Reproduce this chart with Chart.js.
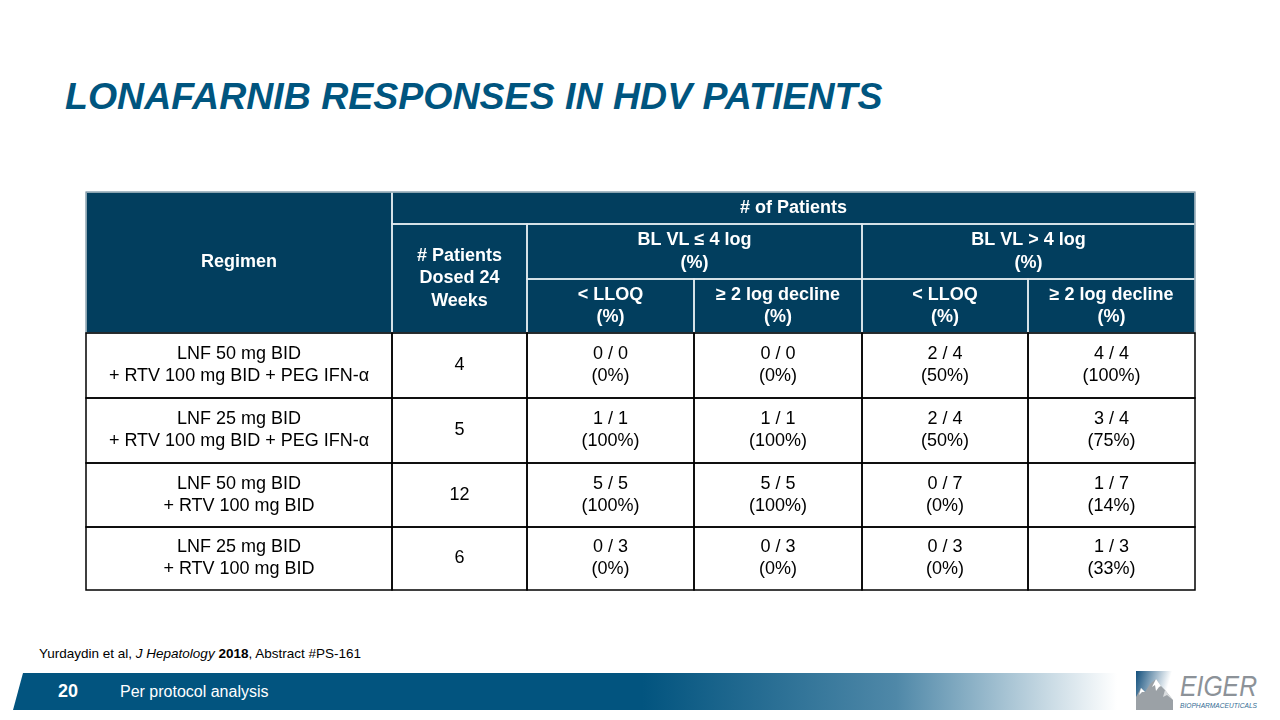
<!doctype html>
<html lang="en">
<head>
    <meta charset="UTF-8">
    <title>Lonafarnib responses in HDV patients</title>
    <style>
        * {
            margin: 0;
            padding: 0;
            box-sizing: border-box;
        }

        body {
            width: 1280px;
            height: 720px;
            position: relative;
            overflow: hidden;
            background: #ffffff;
            font-family: 'Liberation Sans', Arial, sans-serif;
        }

        h1 {
            position: absolute;
            left: 65px;
            top: 78px;
            font-size: 37.5px;
            line-height: 37px;
            font-weight: 700;
            font-style: italic;
            color: #00557f;
            white-space: nowrap;
        }

        #tableBox {
            position: absolute;
            left: 80px;
            top: 186px;
            width: 1121px;
            height: 410px;
        }

        .cite {
            position: absolute;
            left: 39px;
            top: 647px;
            font-size: 13.5px;
            line-height: 14px;
            color: #000000;
            white-space: nowrap;
        }

        .bar {
            position: absolute;
            left: 13px;
            top: 673px;
            width: 1104px;
            height: 37px;
            clip-path: polygon(10px 0, 100% 0, 100% 100%, 0 100%);
            background: linear-gradient(to right, #02547f 0%, #02547f 57%, #4f88a8 80%, #ffffff 100%);
        }

        .bar span {
            position: absolute;
            top: 0;
            line-height: 37px;
            color: #ffffff;
            white-space: nowrap;
        }

        .logo {
            position: absolute;
            left: 1134px;
            top: 670px;
        }
    </style>
</head>

<body>

<h1>LONAFARNIB RESPONSES IN HDV PATIENTS</h1>

<div id="tableBox"><canvas id="tableChart"></canvas></div>

<p class="cite">Yurdaydin et al, <i>J Hepatology</i> <b>2018</b>, Abstract #PS-161</p>

<div class="bar">
    <span style="left:45px; font-size:18px; font-weight:700;">20</span>
    <span style="left:107px; font-size:16px;">Per protocol analysis</span>
</div>

<svg class="logo" width="130" height="44" viewBox="0 0 130 44">
    <defs>
        <linearGradient id="sky" x1="0" y1="0" x2="1" y2="0.3">
            <stop offset="0" stop-color="#124f7c"/>
            <stop offset="0.9" stop-color="#ffffff"/>
        </linearGradient>
    </defs>
    <rect x="2" y="1" width="37" height="39" fill="url(#sky)"/>
    <polygon points="2,40 2,27 7,18 11,22 16,14 22,9 27,16 31,20 39,30 39,40" fill="#9ba1a6"/>
    <polygon points="22,9 18,17 21,15 22,21 25,17 27,16" fill="#ffffff"/>
    <polygon points="7,18 5,25 8,22 11,22" fill="#ffffff"/>
    <polygon points="31,20 29,27 33,25 39,30" fill="#d9dcde"/>
    <text x="46" y="26" font-family="Liberation Sans Narrow, Liberation Sans" font-style="italic"
          font-size="29" fill="#8c9298" textLength="77" lengthAdjust="spacingAndGlyphs">EIGER</text>
    <text x="46" y="38" font-family="Liberation Sans Narrow, Liberation Sans" font-style="italic"
          font-size="7.5" fill="#336b93" textLength="77" lengthAdjust="spacingAndGlyphs">BIOPHARMACEUTICALS</text>
</svg>

<script src="https://cdn.jsdelivr.net/npm/chart.js"></script>

<script>
    // table content, one entry per regimen row
    const regimens = [
        ['LNF 50 mg BID', '+ RTV 100 mg BID + PEG IFN-α'],
        ['LNF 25 mg BID', '+ RTV 100 mg BID + PEG IFN-α'],
        ['LNF 50 mg BID', '+ RTV 100 mg BID'],
        ['LNF 25 mg BID', '+ RTV 100 mg BID']
    ];
    const dosed24 = [4, 5, 12, 6];

    // BL VL <= 4 log
    const lowVlTotal = [0, 1, 5, 3];
    const lowVlLloq = [0, 1, 5, 0];
    const lowVlLloqPct = [0, 100, 100, 0];
    const lowVlDecline = [0, 1, 5, 0];
    const lowVlDeclinePct = [0, 100, 100, 0];

    // BL VL > 4 log
    const highVlTotal = [4, 4, 7, 3];
    const highVlLloq = [2, 2, 0, 0];
    const highVlLloqPct = [50, 50, 0, 0];
    const highVlDecline = [4, 3, 1, 1];
    const highVlDeclinePct = [100, 75, 14, 33];

    const headerTop = '# of Patients';
    const headerRegimen = 'Regimen';
    const headerDosed = ['# Patients', 'Dosed 24', 'Weeks'];
    const headerGroups = [['BL VL ≤ 4 log', '(%)'], ['BL VL > 4 log', '(%)']];
    const headerMeasures = [['< LLOQ', '(%)'], ['≥ 2 log decline', '(%)']];

    // layout of the grid (scale units = px of the original slide)
    const colW = [306, 135, 167, 168, 166, 167];
    const rowH = [32, 55, 54, 65, 65, 64, 63];
    const colEdges = colW.reduce((a, w) => a.concat(a[a.length - 1] + w), [0]);
    const rowEdges = rowH.reduce((a, h) => a.concat(a[a.length - 1] + h), [0]);
    const HEAD_ROWS = 3;

    const HEAD_BG = '#023e5e';
    const HEAD_LINE = '#e3ebf0';
    const BODY_LINE = '#000000';

    // header cells: [col0, col1, row0, row1, lines]
    const headCells = [
        [0, 1, 0, 3, [headerRegimen]],
        [1, 6, 0, 1, [headerTop]],
        [1, 2, 1, 3, headerDosed],
        [2, 4, 1, 2, headerGroups[0]],
        [4, 6, 1, 2, headerGroups[1]],
        [2, 3, 2, 3, headerMeasures[0]],
        [3, 4, 2, 3, headerMeasures[1]],
        [4, 5, 2, 3, headerMeasures[0]],
        [5, 6, 2, 3, headerMeasures[1]]
    ];

    function bodyRows() {
        return regimens.map((reg, i) => [
            reg,
            [String(dosed24[i])],
            [lowVlLloq[i] + ' / ' + lowVlTotal[i], '(' + lowVlLloqPct[i] + '%)'],
            [lowVlDecline[i] + ' / ' + lowVlTotal[i], '(' + lowVlDeclinePct[i] + '%)'],
            [highVlLloq[i] + ' / ' + highVlTotal[i], '(' + highVlLloqPct[i] + '%)'],
            [highVlDecline[i] + ' / ' + highVlTotal[i], '(' + highVlDeclinePct[i] + '%)']
        ]);
    }

    function cellRect(chart, c0, c1, r0, r1) {
        const x = chart.scales.x, y = chart.scales.y;
        const left = x.getPixelForValue(colEdges[c0]);
        const right = x.getPixelForValue(colEdges[c1]);
        const top = y.getPixelForValue(rowEdges[r0]);
        const bottom = y.getPixelForValue(rowEdges[r1]);
        return {left, top, w: right - left, h: bottom - top};
    }

    function drawLines(ctx, r, lines, lh) {
        const cx = r.left + r.w / 2;
        const cy = r.top + r.h / 2;
        const start = cy - (lines.length - 1) * lh / 2;
        lines.forEach((t, k) => ctx.fillText(t, cx, start + k * lh));
    }

    const tablePlugin = {
        id: 'tablePlugin',
        afterDraw(chart) {
            const ctx = chart.ctx;
            ctx.save();
            ctx.textAlign = 'center';
            ctx.textBaseline = 'middle';

            // header
            const head = cellRect(chart, 0, 6, 0, HEAD_ROWS);
            ctx.fillStyle = HEAD_BG;
            ctx.fillRect(head.left, head.top, head.w, head.h);
            ctx.strokeStyle = HEAD_LINE;
            ctx.lineWidth = 1.5;
            headCells.forEach(c => {
                const r = cellRect(chart, c[0], c[1], c[2], c[3]);
                ctx.strokeRect(r.left, r.top, r.w, r.h);
            });
            ctx.strokeStyle = '#6c8798';
            ctx.lineWidth = 1;
            ctx.strokeRect(head.left, head.top, head.w, head.h);

            ctx.fillStyle = '#ffffff';
            ctx.font = 'bold 18px "Liberation Sans", Arial, sans-serif';
            headCells.forEach(c => {
                const r = cellRect(chart, c[0], c[1], c[2], c[3]);
                drawLines(ctx, r, c[4], 22.5);
            });

            // body
            ctx.strokeStyle = BODY_LINE;
            ctx.lineWidth = 1.5;
            ctx.font = '18px "Liberation Sans", Arial, sans-serif';
            bodyRows().forEach((row, i) => {
                row.forEach((lines, j) => {
                    const r = cellRect(chart, j, j + 1, HEAD_ROWS + i, HEAD_ROWS + i + 1);
                    ctx.strokeRect(r.left, r.top, r.w, r.h);
                    ctx.fillStyle = '#000000';
                    drawLines(ctx, r, lines, 22);
                });
            });
            ctx.restore();
        }
    };

    const config = {
        type: 'scatter',
        data: {datasets: []},
        options: {
            responsive: true,
            maintainAspectRatio: false,
            animation: false,
            layout: {padding: 6},
            plugins: {
                legend: {display: false},
                tooltip: {enabled: false}
            },
            scales: {
                x: {type: 'linear', min: 0, max: colEdges[colEdges.length - 1], display: false},
                y: {type: 'linear', min: 0, max: rowEdges[rowEdges.length - 1], reverse: true, display: false}
            }
        },
        plugins: [tablePlugin]
    };

    const tableChart = new Chart(document.getElementById('tableChart'), config);
</script>

</body>
</html>
